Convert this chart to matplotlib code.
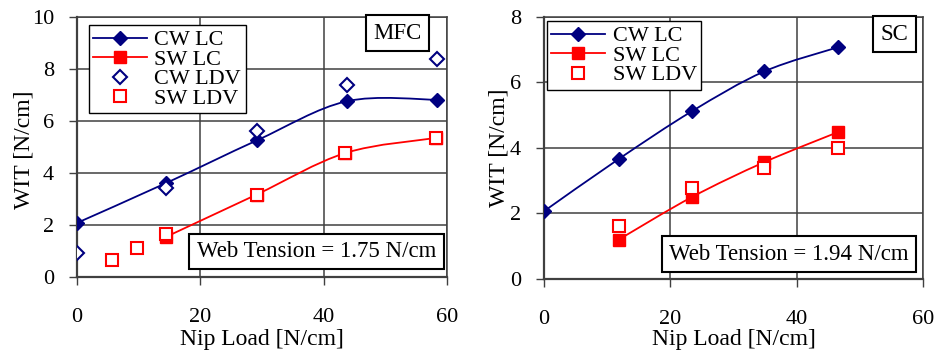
"""
plot.py
---
WIT gegen Nip Load, zwei Panels (MFC und SC), Excel-artig geglättete Linien.
"""

import matplotlib
matplotlib.use("Agg")
import matplotlib.pyplot as plt
import numpy as np
from matplotlib.path import Path
from matplotlib.patches import PathPatch
from matplotlib.lines import Line2D

plt.rcParams['font.family'] = ['Liberation Serif', 'DejaVu Serif']

# --- Daten MFC (links) ---
mfc_cw_lc_x = [0.0, 14.5, 29.2, 43.7, 58.3]
mfc_cw_lc_y = [2.08, 3.62, 5.26, 6.76, 6.82]
mfc_sw_lc_x = [14.4, 29.1, 43.5, 58.2]
mfc_sw_lc_y = [1.54, 3.17, 4.77, 5.35]
mfc_cw_ldv_x = [0.0, 14.5, 29.2, 43.8, 58.4]
mfc_cw_ldv_y = [0.92, 3.42, 5.63, 7.37, 8.38]
mfc_sw_ldv_x = [5.6, 9.8, 14.4, 29.1, 43.5, 58.2]
mfc_sw_ldv_y = [0.67, 1.12, 1.65, 3.17, 4.77, 5.35]

# --- Daten SC (rechts) ---
sc_cw_lc_x = [0.0, 11.8, 23.4, 34.9, 46.6]
sc_cw_lc_y = [2.07, 3.66, 5.12, 6.34, 7.08]
sc_sw_lc_x = [11.8, 23.4, 34.9, 46.6]
sc_sw_lc_y = [1.20, 2.50, 3.57, 4.49]
sc_sw_ldv_x = [11.8, 23.4, 34.9, 46.6]
sc_sw_ldv_y = [1.63, 2.78, 3.39, 4.00]

x_ticks = [0, 20, 40, 60]
mfc_y_ticks = [0, 2, 4, 6, 8, 10]
sc_y_ticks = [0, 2, 4, 6, 8]

NAVY = '#000080'
RED = '#ff0000'
GRID = '#404040'
MS_D = 7      # Rautengröße
MS_S = 8.5    # Quadratgröße


def smooth_path(x, y):
    """Bezier-Pfad durch die Punkte (wie Excel 'geglättete Linie')."""
    pts = np.column_stack([x, y]).astype(float)
    n = len(pts)
    verts = [pts[0]]
    codes = [Path.MOVETO]
    for i in range(n - 1):
        p0 = pts[i - 1] if i > 0 else pts[i]
        p1 = pts[i]
        p2 = pts[i + 1]
        p3 = pts[i + 2] if i + 2 < n else pts[i + 1]
        verts += [p1 + (p2 - p0) / 6, p2 - (p3 - p1) / 6, p2]
        codes += [Path.CURVE4] * 3
    return Path(verts, codes)


def style_axes(ax, yticks):
    ax.set_xlim(0, 60)
    ax.set_ylim(yticks[0], yticks[-1])
    ax.set_xticks(x_ticks)
    ax.set_yticks(yticks)
    ax.grid(True, color=GRID, linewidth=1.1)
    ax.set_axisbelow(True)
    for side in ['left', 'bottom']:
        ax.spines[side].set_color(GRID)
        ax.spines[side].set_linewidth(1.6)
    for side in ['top', 'right']:
        ax.spines[side].set_color(GRID)
        ax.spines[side].set_linewidth(1.1)
    ax.tick_params(axis='both', direction='out', length=6, width=1.0,
                   color=GRID, labelsize=16)
    ax.tick_params(axis='x', pad=16)
    ax.tick_params(axis='y', pad=10.5)
    ax.set_xlabel('Nip Load [N/cm]', fontsize=17)
    ax.set_ylabel('WIT [N/cm]', fontsize=17)


def draw_curve(ax, x, y, color, marker, ms):
    ax.add_patch(PathPatch(smooth_path(x, y), facecolor='none',
                           edgecolor=color, linewidth=1.3, zorder=2))
    ax.plot(x, y, linestyle='none', marker=marker, markersize=ms,
            color=color, zorder=3)


def draw_open(ax, x, y, color, marker, ms):
    ax.plot(x, y, linestyle='none', marker=marker, markersize=ms,
            markerfacecolor='white', markeredgecolor=color,
            markeredgewidth=1.5, zorder=4)


def boxed_text(ax, x, y, s):
    ax.text(x, y, s, transform=ax.transAxes, ha='center', va='center',
            fontsize=16.5, zorder=6,
            bbox=dict(boxstyle='square,pad=0.32', facecolor='white',
                      edgecolor='black', linewidth=1.5))


def make_legend(ax, handles, labels, anchor):
    leg = ax.legend(handles, labels, loc='upper left', bbox_to_anchor=anchor,
                    fontsize=16, fancybox=False, framealpha=1,
                    edgecolor='black', borderpad=0.2, labelspacing=-0.05,
                    handlelength=2.4, handletextpad=0.35, borderaxespad=0)
    leg.get_frame().set_linewidth(1.0)
    return leg


h_cw_lc = Line2D([], [], color=NAVY, marker='D', markersize=MS_D, linewidth=1.3)
h_sw_lc = Line2D([], [], color=RED, marker='s', markersize=MS_S, linewidth=1.3)
h_cw_ldv = Line2D([], [], linestyle='none', marker='D', markersize=MS_D,
                  markerfacecolor='white', markeredgecolor=NAVY,
                  markeredgewidth=1.5)
h_sw_ldv = Line2D([], [], linestyle='none', marker='s', markersize=MS_S,
                  markerfacecolor='white', markeredgecolor=RED,
                  markeredgewidth=1.5)

fig = plt.figure(figsize=(9.37, 3.56), dpi=100)
ax1 = fig.add_axes([0.0822, 0.222, 0.395, 0.730])
ax2 = fig.add_axes([0.5806, 0.2163, 0.4045, 0.736])

# Links: MFC
style_axes(ax1, mfc_y_ticks)
draw_curve(ax1, mfc_cw_lc_x, mfc_cw_lc_y, NAVY, 'D', MS_D)
draw_curve(ax1, mfc_sw_lc_x, mfc_sw_lc_y, RED, 's', MS_S)
draw_open(ax1, mfc_cw_ldv_x, mfc_cw_ldv_y, NAVY, 'D', MS_D)
draw_open(ax1, mfc_sw_ldv_x, mfc_sw_ldv_y, RED, 's', MS_S)
make_legend(ax1, [h_cw_lc, h_sw_lc, h_cw_ldv, h_sw_ldv],
            ['CW LC', 'SW LC', 'CW LDV', 'SW LDV'], (0.032, 0.968))
boxed_text(ax1, 0.865, 0.938, 'MFC')
boxed_text(ax1, 0.647, 0.098, 'Web Tension = 1.75 N/cm')
ax1.yaxis.set_label_coords(-0.115, 0.49)
ax1.xaxis.set_label_coords(0.5, -0.20)

# Rechts: SC
style_axes(ax2, sc_y_ticks)
draw_curve(ax2, sc_cw_lc_x, sc_cw_lc_y, NAVY, 'D', MS_D)
draw_curve(ax2, sc_sw_lc_x, sc_sw_lc_y, RED, 's', MS_S)
draw_open(ax2, sc_sw_ldv_x, sc_sw_ldv_y, RED, 's', MS_S)
make_legend(ax2, [h_cw_lc, h_sw_lc, h_sw_ldv],
            ['CW LC', 'SW LC', 'SW LDV'], (0.008, 0.983))
boxed_text(ax2, 0.925, 0.935, 'SC')
boxed_text(ax2, 0.646, 0.095, 'Web Tension = 1.94 N/cm')
ax2.yaxis.set_label_coords(-0.09, 0.5)
ax2.xaxis.set_label_coords(0.5, -0.19)

fig.savefig('out.png', dpi=100)
